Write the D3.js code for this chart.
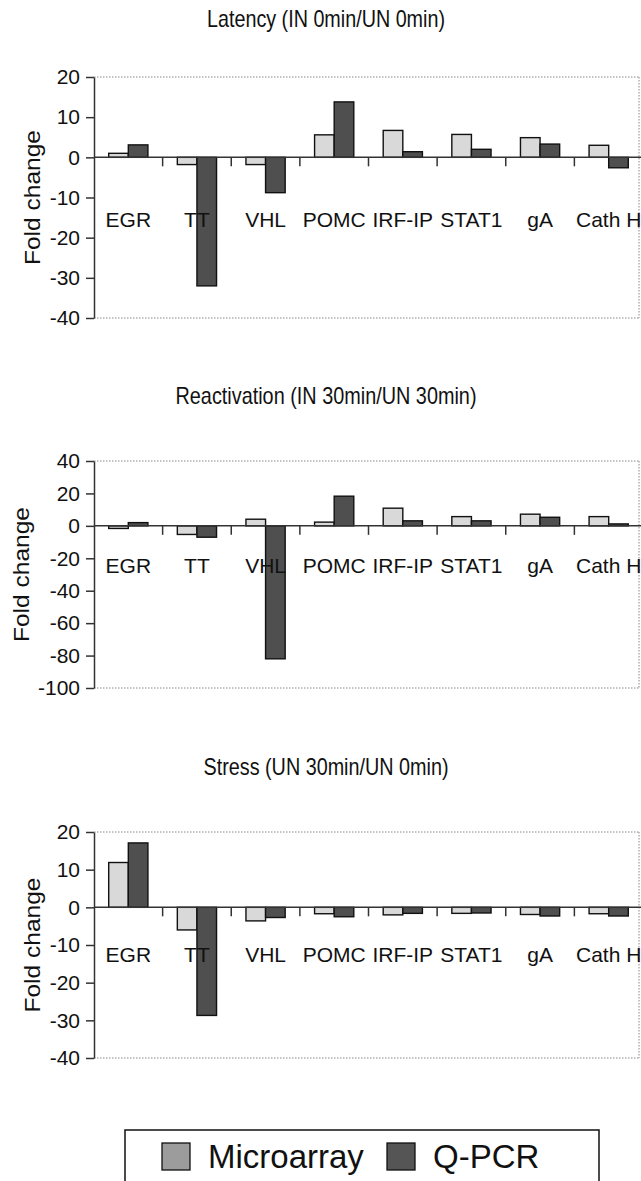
<!DOCTYPE html>
<html>
<head>
<meta charset="utf-8">
<script src="https://cdn.jsdelivr.net/npm/d3@7"></script>
<style>
  body { margin: 0; background: #fff; }
  svg text { fill: #111; }
  .reg { font-family: "Liberation Sans", Arial, sans-serif; }
</style>
</head>
<body>
<svg id="chart" width="641" height="1181"></svg>
<script>
// genes on the x axis (same for all three panels)
var genes = ["EGR", "TT", "VHL", "POMC", "IRF-IP", "STAT1", "gA", "Cath H"];
var series = ["Microarray", "Q-PCR"];

// fold change values
var latencyMicroarray = [1.0, -1.8, -1.8, 5.6, 6.7, 5.7, 4.9, 3.0];
var latencyQPCR = [3.1, -32, -8.8, 13.8, 1.4, 2.0, 3.3, -2.6];

var reactMicroarray = [-1.6, -5.3, 4.1, 2.3, 10.9, 5.7, 7.2, 5.7];
var reactQPCR = [2.0, -7, -82, 18.3, 3.1, 3.1, 5.3, 1.2];

var stressMicroarray = [11.9, -6.0, -3.6, -1.7, -2.0, -1.6, -1.9, -1.7];
var stressQPCR = [17.1, -28.7, -2.7, -2.5, -1.6, -1.5, -2.3, -2.3];

var latencyTicks = [20, 10, 0, -10, -20, -30, -40];
var reactTicks = [40, 20, 0, -20, -40, -60, -80, -100];
var stressTicks = [20, 10, 0, -10, -20, -30, -40];

var colors = { "Microarray": "#d9d9d9", "Q-PCR": "#4f4f4f" };
var legendColors = { "Microarray": "#9c9c9c", "Q-PCR": "#555555" };

var svg = d3.select("#chart");
var left = 94, right = 643, borderRight = 639;

function drawPanel(opt) {
    var g = svg.append("g");

    var x = d3.scaleBand().domain(genes).range([left, right]);
    var xs = d3.scaleBand().domain(series).range([0, x.bandwidth()]).paddingOuter(0.75);
    var y = d3.scaleLinear().domain([opt.ticks[opt.ticks.length - 1], opt.ticks[0]]).range([opt.bottom, opt.top]);

    // title (condensed like the original narrow face)
    g.append("text")
        .attr("class", "reg")
        .attr("x", 326)
        .attr("y", opt.titleY)
        .attr("text-anchor", "middle")
        .attr("textLength", opt.titleW)
        .attr("lengthAdjust", "spacingAndGlyphs")
        .style("font-size", "24px")
        .text(opt.title);

    // dotted plot area border (top, bottom, right)
    var dotted = [[left, opt.top, borderRight, opt.top], [left, opt.bottom, borderRight, opt.bottom], [borderRight, opt.top, borderRight, opt.bottom]];
    g.selectAll(".border").data(dotted).enter().append("line")
        .attr("x1", function(d) { return d[0]; })
        .attr("y1", function(d) { return d[1]; })
        .attr("x2", function(d) { return d[2]; })
        .attr("y2", function(d) { return d[3]; })
        .attr("stroke", "#888")
        .attr("stroke-width", 1)
        .attr("stroke-dasharray", "1.5,1.5");

    // bars
    var rows = genes.map(function(gene, i) {
        return { gene: gene, values: [{ s: "Microarray", v: opt.micro[i] }, { s: "Q-PCR", v: opt.qpcr[i] }] };
    });
    g.selectAll(".grp").data(rows).enter().append("g")
        .attr("transform", function(d) { return "translate(" + x(d.gene) + ",0)"; })
        .selectAll("rect").data(function(d) { return d.values; }).enter().append("rect")
        .attr("x", function(d) { return xs(d.s); })
        .attr("width", xs.bandwidth())
        .attr("y", function(d) { return y(Math.max(0, d.v)); })
        .attr("height", function(d) { return Math.abs(y(d.v) - y(0)); })
        .attr("fill", function(d) { return colors[d.s]; })
        .attr("stroke", "#111")
        .attr("stroke-width", 1.4);

    // zero line with category ticks
    g.append("line")
        .attr("x1", left).attr("x2", right)
        .attr("y1", y(0)).attr("y2", y(0))
        .attr("stroke", "#333").attr("stroke-width", 1.5);
    g.selectAll(".ctick").data(genes.slice(1)).enter().append("line")
        .attr("x1", function(d) { return x(d); })
        .attr("x2", function(d) { return x(d); })
        .attr("y1", y(0)).attr("y2", y(0) + 9)
        .attr("stroke", "#333").attr("stroke-width", 1.5);

    // category labels
    g.selectAll(".clabel").data(genes).enter().append("text")
        .attr("class", "reg")
        .attr("x", function(d) { return x(d) + x.bandwidth() / 2; })
        .attr("y", opt.labelY)
        .attr("text-anchor", "middle")
        .style("font-size", "21px")
        .text(function(d) { return d; });

    // y axis, plain hyphen for negatives
    var axis = g.append("g")
        .attr("transform", "translate(" + left + ",0)")
        .call(d3.axisLeft(y).tickValues(opt.ticks).tickSize(8).tickPadding(6).tickSizeOuter(0)
            .tickFormat(function(d) { return String(d); }));
    axis.select(".domain").attr("stroke", "#333").attr("stroke-width", 1.5);
    axis.selectAll(".tick line").attr("stroke", "#333").attr("stroke-width", 1.5);
    axis.selectAll(".tick text")
        .attr("class", "reg")
        .style("font-size", "21px")
        .attr("fill", "#111");

    // axis title
    g.append("text")
        .attr("class", "reg")
        .attr("text-anchor", "middle")
        .attr("transform", "translate(" + opt.labelX + "," + ((opt.top + opt.bottom) / 2) + ")rotate(-90)")
        .attr("dy", "0.35em")
        .attr("textLength", 135)
        .attr("lengthAdjust", "spacingAndGlyphs")
        .style("font-size", "22px")
        .text("Fold change");
}

drawPanel({ title: "Latency (IN 0min/UN 0min)", titleY: 27, titleW: 238, top: 77, bottom: 318, ticks: latencyTicks,
    micro: latencyMicroarray, qpcr: latencyQPCR, labelY: 227, labelX: 32 });
drawPanel({ title: "Reactivation (IN 30min/UN 30min)", titleY: 404, titleW: 301, top: 461, bottom: 688, ticks: reactTicks,
    micro: reactMicroarray, qpcr: reactQPCR, labelY: 573, labelX: 21 });
drawPanel({ title: "Stress (UN 30min/UN 0min)", titleY: 775, titleW: 245, top: 832, bottom: 1058, ticks: stressTicks,
    micro: stressMicroarray, qpcr: stressQPCR, labelY: 962, labelX: 32 });

// legend
var legend = svg.append("g");
legend.append("rect")
    .attr("x", 125).attr("y", 1130)
    .attr("width", 474).attr("height", 70)
    .attr("fill", "#fff").attr("stroke", "#111").attr("stroke-width", 1.5);
var legendX = [162, 387];
legend.selectAll(".sw").data(series).enter().append("rect")
    .attr("x", function(d, i) { return legendX[i]; })
    .attr("y", 1143)
    .attr("width", 28).attr("height", 27)
    .attr("fill", function(d) { return legendColors[d]; })
    .attr("stroke", "#111").attr("stroke-width", 1.3);
legend.selectAll(".lt").data(series).enter().append("text")
    .attr("class", "reg")
    .attr("x", function(d, i) { return legendX[i] + 46; })
    .attr("y", 1168)
    .style("font-size", "33px")
    .text(function(d) { return d; });
</script>
</body>
</html>
